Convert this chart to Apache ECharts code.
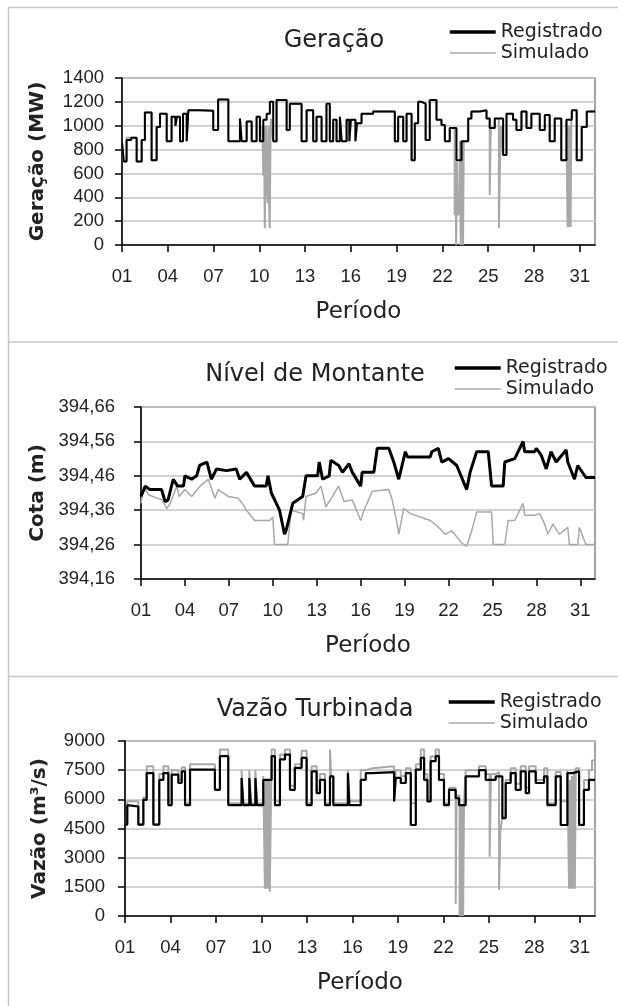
<!DOCTYPE html>
<html>
<head>
<meta charset="utf-8">
<script src="https://cdn.jsdelivr.net/npm/echarts@6/dist/echarts.min.js"></script>
<style>
  html, body { margin: 0; padding: 0; background: #fff; }
  #chart { width: 618px; height: 1006px; }
</style>
</head>
<body>
<div id="chart"></div>
<script>
  // eixo x: dias decorridos desde o dia 01 (0 = dia 01 00h)
  var dayTicks = [0, 3, 6, 9, 12, 15, 18, 21, 24, 27, 30];

  // Geração (MW) - [dia, valor]
  var genReg = [[0,860],[0.12,700],[0.3,880],[0.6,900],[0.96,700],[1.29,880],[1.5,1110],[1.94,710],[2.27,990],[2.49,1100],[2.93,870],[3.25,1075],[3.5,1000],[3.6,1075],[3.8,870],[4.0,1100],[4.24,870],[4.35,1130],[5.1,1125],[5.98,965],[6.3,1220],[6.97,870],[7.73,1060],[7.84,870],[8.17,1035],[8.5,870],[8.82,1075],[9.04,870],[9.26,1050],[9.48,1100],[9.69,1200],[9.91,870],[10.13,1215],[10.79,965],[11.0,1185],[11.77,870],[12.1,1130],[12.53,870],[12.75,1075],[13.08,870],[13.4,1185],[13.62,870],[13.84,1050],[14.06,870],[14.28,1075],[14.4,870],[14.72,1050],[14.9,870],[15.0,1050],[15.3,870],[15.4,1020],[15.7,1100],[16.46,1120],[17.88,870],[18.1,1075],[18.43,870],[18.65,1100],[18.98,710],[19.19,1020],[19.41,1200],[19.63,1185],[19.9,880],[20.17,1215],[20.61,1050],[20.94,1005],[21.16,870],[21.48,980],[21.92,710],[22.25,870],[22.69,1060],[22.9,1120],[23.45,1130],[23.89,1060],[24.1,980],[24.43,1060],[24.98,755],[25.2,1100],[25.63,1050],[25.85,965],[26.18,1120],[26.51,980],[26.83,1100],[27.38,965],[27.71,1090],[28.03,870],[28.36,1060],[28.79,710],[29.13,1050],[29.48,1130],[29.8,710],[30.13,990],[30.46,1120],[31,1120]];
  var genSim = [[0,860],[0.12,700],[0.3,900],[0.96,700],[1.29,880],[1.5,1110],[1.94,710],[2.27,990],[2.49,1100],[2.93,870],[3.25,1075],[3.5,1000],[3.6,1075],[3.8,870],[4.0,1100],[4.24,870],[4.35,1130],[5.1,1125],[5.98,965],[6.3,1220],[6.97,870],[7.73,1060],[7.84,870],[8.17,1035],[8.5,870],[8.82,1075],[9.04,870],[9.2,1000],[9.26,580],[9.3,1000],[9.33,580],[9.36,140],[9.4,580],[9.44,1000],[9.48,580],[9.55,350],[9.6,1000],[9.64,350],[9.68,140],[9.74,1000],[9.78,1060],[9.91,870],[10.13,1215],[10.79,965],[11.0,1185],[11.77,870],[12.1,1130],[12.53,870],[12.75,1075],[13.08,870],[13.4,1185],[13.62,870],[13.84,1050],[14.06,870],[14.28,1075],[14.4,870],[14.72,1050],[14.9,870],[15.0,1050],[15.3,870],[15.4,1020],[15.7,1100],[16.46,1120],[17.88,870],[18.1,1075],[18.43,870],[18.65,1100],[18.98,710],[19.19,1020],[19.41,1200],[19.63,1185],[19.9,880],[20.17,1215],[20.61,1050],[20.94,1005],[21.16,870],[21.48,980],[21.8,250],[21.85,700],[21.9,0],[21.95,700],[22.0,250],[22.1,270],[22.15,870],[22.2,0],[22.3,870],[22.35,0],[22.4,870],[22.69,1060],[22.9,1120],[23.45,1130],[23.89,1060],[24.1,420],[24.17,980],[24.43,1060],[24.7,140],[24.76,600],[24.85,1000],[24.98,755],[25.2,1100],[25.63,1050],[25.85,965],[26.18,1120],[26.51,980],[26.83,1100],[27.38,965],[27.71,1090],[28.03,870],[28.36,1060],[28.79,710],[29.13,1050],[29.2,150],[29.25,1000],[29.3,150],[29.35,1000],[29.4,150],[29.45,1050],[29.5,1130],[29.8,710],[30.13,990],[30.46,1120],[31,1120]];

  // Nível de Montante - cota (m)
  var nivelReg = [[0,394.40],[0.3,394.43],[0.6,394.42],[1.4,394.42],[1.65,394.385],[1.85,394.39],[2.2,394.45],[2.5,394.43],[2.9,394.43],[3.0,394.46],[3.46,394.45],[3.8,394.46],[4.0,394.49],[4.5,394.50],[4.8,394.45],[5.16,394.48],[5.84,394.475],[6.5,394.48],[6.74,394.45],[7.2,394.47],[7.76,394.43],[8.55,394.43],[8.67,394.46],[8.9,394.41],[9.46,394.36],[9.8,394.29],[9.9,394.30],[10.25,394.36],[10.36,394.38],[11.04,394.40],[11.27,394.46],[12.06,394.46],[12.17,394.50],[12.4,394.45],[12.85,394.46],[12.96,394.505],[13.5,394.49],[13.76,394.47],[14.2,394.495],[14.43,394.47],[15.0,394.43],[15.1,394.47],[15.9,394.47],[16.13,394.54],[16.92,394.54],[17.26,394.50],[17.6,394.45],[18.05,394.53],[18.2,394.515],[19.75,394.515],[19.86,394.53],[20.3,394.54],[20.54,394.50],[21.0,394.51],[21.56,394.49],[22.24,394.42],[22.47,394.47],[22.92,394.53],[23.71,394.53],[23.94,394.43],[24.73,394.43],[24.84,394.50],[25.52,394.51],[26.09,394.56],[26.2,394.53],[26.88,394.53],[26.99,394.54],[27.33,394.52],[27.67,394.48],[28.0,394.53],[28.35,394.50],[29.03,394.535],[29.14,394.50],[29.6,394.45],[29.82,394.49],[30.38,394.455],[31,394.455]];
  var nivelSim = [[0,394.38],[0.18,394.43],[0.5,394.405],[1.43,394.39],[1.76,394.365],[2.0,394.38],[2.44,394.43],[2.6,394.40],[3.0,394.42],[3.46,394.40],[4.03,394.43],[4.59,394.45],[5.05,394.395],[5.27,394.42],[5.95,394.40],[6.63,394.395],[7.0,394.375],[7.2,394.36],[7.76,394.33],[8.78,394.33],[9.0,394.34],[9.12,394.26],[10.02,394.26],[10.25,394.36],[11.04,394.35],[11.1,394.33],[11.27,394.40],[11.95,394.41],[12.29,394.43],[12.62,394.37],[13.08,394.40],[13.48,394.43],[13.87,394.385],[14.43,394.39],[14.77,394.355],[15.0,394.33],[15.23,394.36],[15.79,394.415],[16.92,394.42],[17.15,394.39],[17.49,394.32],[17.6,394.29],[17.94,394.365],[18.39,394.35],[19.07,394.34],[19.75,394.33],[20.32,394.31],[20.77,394.29],[21.22,394.30],[21.9,394.265],[22.24,394.255],[22.58,394.30],[22.92,394.355],[23.94,394.355],[24.05,394.26],[24.84,394.26],[25.07,394.33],[25.52,394.33],[26.09,394.38],[26.2,394.345],[26.88,394.345],[27.22,394.35],[27.56,394.32],[27.78,394.29],[28.12,394.32],[28.57,394.29],[29.14,394.31],[29.25,394.26],[29.82,394.26],[29.93,394.31],[30.38,394.26],[31,394.26]];
  var nivelBase = 394.16;

  // Vazão Turbinada (m3/s)
  var vazReg = [[0,4700],[0.15,5700],[0.22,5630],[0.88,4700],[1.21,5975],[1.43,7350],[1.87,4700],[2.26,7000],[2.53,7350],[2.86,5700],[3.08,7270],[3.52,6840],[3.74,7440],[3.96,5700],[4.29,7530],[5.93,6490],[6.26,8220],[6.81,5700],[7.69,7100],[7.8,5700],[8.2,7100],[8.3,5700],[8.6,7100],[8.7,5700],[9.12,7000],[9.67,8220],[9.89,5700],[10.22,8050],[10.55,8300],[10.88,6490],[11.2,7620],[11.65,8130],[11.98,5700],[12.31,7440],[12.64,6320],[12.86,7000],[13.19,5700],[13.52,7180],[13.74,5700],[14.7,7350],[14.8,5700],[15.55,7000],[15.88,7350],[16.32,7400],[17.75,5890],[17.86,7100],[18.19,6840],[18.52,7350],[18.85,4680],[19.18,7530],[19.51,8130],[19.73,7000],[19.95,5890],[20.16,7960],[20.49,8220],[20.71,7000],[21.04,5700],[21.37,6490],[21.81,6060],[22.03,5700],[22.47,7180],[23.35,7500],[23.79,7000],[24.45,7180],[24.89,5030],[25.11,6840],[25.44,7350],[25.77,6490],[26.1,7440],[26.43,6320],[26.65,7440],[27.09,6840],[27.64,7180],[27.86,5700],[28.41,7180],[28.74,4680],[29.18,7350],[29.51,7440],[29.95,4680],[30.27,6490],[30.6,7000],[31,7000]];
  var vazSim = [[0,4700],[0.15,5900],[0.88,4700],[1.21,6100],[1.43,7700],[1.87,4700],[2.26,7300],[2.53,7700],[2.86,5700],[3.08,7500],[3.52,7000],[3.74,7650],[3.96,5800],[4.29,7800],[5.93,6500],[6.26,8560],[6.81,5800],[7.69,7500],[7.8,5800],[8.2,7500],[8.3,5800],[8.6,7500],[8.7,5800],[9.12,7200],[9.23,1400],[9.28,7000],[9.32,1400],[9.38,7000],[9.42,1400],[9.5,7000],[9.55,1250],[9.67,8560],[9.89,5900],[10.22,8300],[10.55,8560],[10.88,6700],[11.2,7800],[11.65,8500],[11.98,5800],[12.31,7700],[12.64,6500],[12.86,7300],[13.19,5800],[13.52,8560],[13.6,7180],[13.74,5800],[14.7,7500],[14.8,5900],[15.55,7500],[15.88,7600],[16.32,7700],[17.75,5900],[17.86,7500],[18.19,7200],[18.52,7600],[18.85,5800],[19.18,7800],[19.51,8560],[19.73,7300],[19.95,6000],[20.16,8200],[20.49,8560],[20.71,7300],[21.04,5800],[21.37,6600],[21.81,620],[21.87,6200],[22.07,0],[22.13,5700],[22.17,0],[22.25,5700],[22.3,0],[22.36,5800],[22.47,7500],[23.35,7700],[23.79,7300],[24.05,3050],[24.14,7300],[24.45,7400],[24.67,1350],[24.76,4400],[24.89,5100],[25.11,7000],[25.44,7600],[25.77,6800],[26.1,7700],[26.43,6600],[26.65,7700],[27.09,7000],[27.64,7600],[27.86,5800],[28.41,7400],[28.74,5900],[29.18,7500],[29.29,1400],[29.35,7000],[29.4,1400],[29.48,7200],[29.53,1400],[29.62,7300],[29.67,1400],[29.73,7600],[29.95,4700],[30.27,7000],[30.6,7500],[30.8,8000],[31,7500]];

  var font = '"Liberation Sans", Arial, sans-serif';
  var wideFont = '"DejaVu Sans", Verdana, sans-serif';
  var txt = '#222';

  var chart = echarts.init(document.getElementById('chart'), null, {renderer: 'canvas'});

  function xAxisFor(i) {
    return {
      type: 'value', gridIndex: i, min: 0, max: 31,
      name: 'Período', nameLocation: 'middle', nameGap: 56,
      nameTextStyle: {fontSize: 23, color: txt, fontFamily: wideFont},
      axisLine: {lineStyle: {color: '#000', width: 1.5}},
      axisTick: {show: true, length: 7, customValues: dayTicks, lineStyle: {color: '#000', width: 1.5}},
      axisLabel: {
        customValues: dayTicks, margin: 22, fontSize: 18.5, color: txt, fontFamily: font,
        formatter: function (v) { return String(v + 1).padStart(2, '0'); }
      },
      splitLine: {show: false}
    };
  }

  function yAxisFor(i, name, max, interval, nameGap, margin, fmt) {
    return {
      type: 'value', gridIndex: i, min: 0, max: max, interval: interval,
      name: name, nameLocation: 'middle', nameGap: nameGap,
      nameTextStyle: {fontSize: 20, fontWeight: 'bold', color: txt, fontFamily: wideFont},
      axisLine: {show: true, lineStyle: {color: '#000', width: 1.5}},
      axisTick: {show: true, length: 7, lineStyle: {color: '#000', width: 1.5}},
      axisLabel: {margin: margin, fontSize: 18.5, color: txt, fontFamily: font, formatter: fmt},
      splitLine: {show: true, lineStyle: {color: '#c4c4c4', width: 1.5}}
    };
  }

  function lineSeries(name, i, data, color, width, step) {
    return {
      name: name, type: 'line', xAxisIndex: i, yAxisIndex: i,
      data: data, step: step, symbol: 'none', showSymbol: false,
      lineStyle: {color: color, width: width}, itemStyle: {color: color},
      z: name === 'Registrado' ? 3 : 2
    };
  }

  function legendAt(left, top) {
    return {
      left: left, top: top, orient: 'vertical', padding: 0,
      itemWidth: 46, itemHeight: 14, itemGap: 1, selectedMode: false,
      itemStyle: {opacity: 0},
      data: [
        {name: 'Registrado', lineStyle: {width: 3.5}},
        {name: 'Simulado', lineStyle: {width: 1.5}}
      ],
      textStyle: {fontSize: 19, color: txt, fontFamily: wideFont, lineHeight: 20}
    };
  }

  function titleAt(text, left, top) {
    return {
      text: text, left: left, top: top, textAlign: 'center', padding: 0,
      textStyle: {fontSize: 24, fontWeight: 'normal', color: txt, fontFamily: wideFont}
    };
  }

  var offsetNivel = function (arr) {
    return arr.map(function (p) { return [p[0], +(p[1] - nivelBase).toFixed(3)]; });
  };
  var plain = function (v) { return String(v); };

  var gridBase = {show: true, backgroundColor: '#fff', borderColor: '#888', borderWidth: 1.5};

  chart.setOption({
    animation: false,
    backgroundColor: '#fff',
    textStyle: {fontFamily: font},
    title: [
      titleAt('Geração', 334, 29),
      titleAt('Nível de Montante', 315, 363),
      titleAt('Vazão Turbinada', 315, 698)
    ],
    legend: [legendAt(448, 22), legendAt(453, 358), legendAt(447, 692)],
    grid: [
      Object.assign({left: 122, top: 78, right: 23, height: 167}, gridBase),
      Object.assign({left: 141, top: 407, right: 23, height: 172}, gridBase),
      Object.assign({left: 125, top: 741, right: 23, height: 175}, gridBase)
    ],
    xAxis: [xAxisFor(0), xAxisFor(1), xAxisFor(2)],
    yAxis: [
      yAxisFor(0, 'Geração (MW)', 1400, 200, 74, 18, plain),
      yAxisFor(1, 'Cota (m)', 0.5, 0.1, 91, 26, function (v) {
        return (nivelBase + v).toFixed(2).replace('.', ',');
      }),
      yAxisFor(2, 'Vazão (m³/s)', 9000, 1500, 75, 20, plain)
    ],
    graphic: [
      {type: 'line', shape: {x1: 8.5, y1: 7.5, x2: 618, y2: 7.5}, style: {stroke: '#c8c8c8', lineWidth: 1.5}, silent: true},
      {type: 'line', shape: {x1: 8.5, y1: 7.5, x2: 8.5, y2: 1006}, style: {stroke: '#c8c8c8', lineWidth: 1.5}, silent: true},
      {type: 'line', shape: {x1: 8.5, y1: 342, x2: 618, y2: 342}, style: {stroke: '#c8c8c8', lineWidth: 1.5}, silent: true},
      {type: 'line', shape: {x1: 8.5, y1: 676.5, x2: 618, y2: 676.5}, style: {stroke: '#c8c8c8', lineWidth: 1.5}, silent: true}
    ],
    series: [
      lineSeries('Simulado', 0, genSim, '#a8a8a8', 2, 'end'),
      lineSeries('Registrado', 0, genReg, '#000', 2, 'end'),
      lineSeries('Simulado', 1, offsetNivel(nivelSim), '#a8a8a8', 1.5, false),
      lineSeries('Registrado', 1, offsetNivel(nivelReg), '#000', 3, false),
      lineSeries('Simulado', 2, vazSim, '#a8a8a8', 2, 'end'),
      lineSeries('Registrado', 2, vazReg, '#000', 2.2, 'end')
    ]
  });
</script>
</body>
</html>
